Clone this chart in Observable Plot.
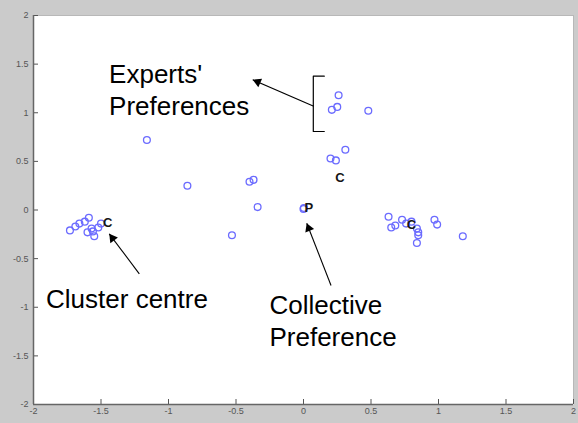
<!DOCTYPE html>
<html>
<head>
<meta charset="utf-8">
<script src="https://cdn.jsdelivr.net/npm/d3@7"></script>
<script src="https://cdn.jsdelivr.net/npm/@observablehq/plot@0.6"></script>
<style>
  html, body { margin: 0; padding: 0; background: #cbcbcb; }
  #chart svg { display: block; }
</style>
</head>
<body>
<div id="chart"></div>
<script>
// ---- data ----
const expertX = [-1.73, -1.69, -1.66, -1.62, -1.59, -1.60, -1.57, -1.56, -1.55, -1.52, -1.50,
  -1.16, -0.86, -0.40, -0.37, -0.34, -0.53, 0.00, 0.20, 0.24, 0.31, 0.26, 0.25, 0.21, 0.48,
  0.63, 0.65, 0.68, 0.73, 0.76, 0.80, 0.84, 0.85, 0.85, 0.84, 0.97, 0.99, 1.18];
const expertY = [-0.21, -0.17, -0.14, -0.12, -0.08, -0.23, -0.19, -0.22, -0.27, -0.18, -0.14,
  0.72, 0.25, 0.29, 0.31, 0.03, -0.26, 0.01, 0.53, 0.51, 0.62, 1.18, 1.06, 1.03, 1.02,
  -0.07, -0.18, -0.16, -0.10, -0.14, -0.12, -0.19, -0.23, -0.26, -0.34, -0.10, -0.15, -0.27];
const centreX = [-1.45, 0.27, 0.80];
const centreY = [-0.13, 0.33, -0.15];
const collectiveX = [0.04];
const collectiveY = [0.02];
const xTicks = [-2, -1.5, -1, -0.5, 0, 0.5, 1, 1.5, 2];
const yTicks = [-2, -1.5, -1, -0.5, 0, 0.5, 1, 1.5, 2];

// annotations
const labels = [
  {text: "Experts'\nPreferences", x: -1.44, y: 1.245},
  {text: "Cluster centre", x: -1.907, y: -0.907},
  {text: "Collective\nPreference", x: -0.252, y: -1.128}
];
const arrows = [
  {x1: 0.0756, y1: 1.067, x2: -0.376, y2: 1.339},
  {x1: -1.216, y1: -0.656, x2: -1.439, y2: -0.245},
  {x1: 0.204, y1: -0.776, x2: 0.024, y2: -0.136}
];
const bracketX = [0.154, 0.0726, 0.0726, 0.154];
const bracketY = [1.376, 1.376, 0.807, 0.807];

// ---- build ----
const experts = expertX.map((x, i) => ({x, y: expertY[i]}));
const centres = centreX.map((x, i) => ({x, y: centreY[i], t: "C"}));
const collective = collectiveX.map((x, i) => ({x, y: collectiveY[i], t: "P"}));
const bracket = bracketX.map((x, i) => ({x, y: bracketY[i]}));

const base = {
  width: 578, height: 423,
  marginLeft: 33, marginRight: 5, marginTop: 15, marginBottom: 19,
  x: {domain: [-2, 2]},
  y: {domain: [-2, 2]},
  style: {background: "transparent", fontFamily: "Arial, 'Liberation Sans', sans-serif"}
};

// first pass to obtain scales for arrow-head orientation
const p0 = Plot.plot({...base, marks: [Plot.frame()]});
const sx = p0.scale("x"), sy = p0.scale("y");
const heads = arrows.map(a => {
  const px1 = sx.apply(a.x1), py1 = sy.apply(a.y1);
  const px2 = sx.apply(a.x2), py2 = sy.apply(a.y2);
  const dx = px2 - px1, dy = py2 - py1;
  const len = Math.hypot(dx, dy);
  const ux = dx / len, uy = dy / len;
  const back = 5.4;
  return {
    x: sx.invert(px2 - ux * back),
    y: sy.invert(py2 - uy * back),
    rot: Math.atan2(dx, -dy) * 180 / Math.PI
  };
});

const fmt = d => String(d);

const chart = Plot.plot({
  ...base,
  marks: [
    Plot.frame({fill: "white", stroke: null}),
    Plot.ruleY([2], {stroke: "#b8b8b8", strokeWidth: 1}),
    Plot.ruleX([2], {stroke: "#b8b8b8", strokeWidth: 1}),
    Plot.axisX({ticks: xTicks, tickSize: -5, tickPadding: 8, tickFormat: fmt, fontSize: 9, color: "#555"}),
    Plot.axisY({ticks: yTicks, tickSize: -5, tickPadding: 10, tickFormat: fmt, fontSize: 9, color: "#555"}),
    Plot.ruleY([-2], {stroke: "#666", strokeWidth: 1.5}),
    Plot.ruleX([-2], {stroke: "#666", strokeWidth: 1.5}),
    Plot.dot(experts, {x: "x", y: "y", r: 3.4, stroke: "#6b6bff", strokeWidth: 1.3, fill: "none"}),
    Plot.dot(collective, {x: "x", y: "y", dx: -5, r: 3.4, stroke: "#6b6bff", strokeWidth: 1.3, fill: "none"}),
    Plot.text(centres, {x: "x", y: "y", text: "t", fontSize: 13, fontWeight: "bold", fill: "#151515"}),
    Plot.text(collective, {x: "x", y: "y", text: "t", fontSize: 13, fontWeight: "bold", fill: "#151515"}),
    Plot.line(bracket, {x: "x", y: "y", stroke: "black", strokeWidth: 1.2}),
    Plot.link(arrows, {x1: "x1", y1: "y1", x2: "x2", y2: "y2", stroke: "black", strokeWidth: 1.1}),
    Plot.dot(heads, {x: "x", y: "y", symbol: "triangle", r: 3.5, rotate: "rot", fill: "black", stroke: null}),
    Plot.text(labels, {x: "x", y: "y", text: "text", textAnchor: "start", fontSize: 26, lineHeight: 1.22, fill: "black"})
  ]
});
document.getElementById("chart").appendChild(chart);
</script>
</body>
</html>
